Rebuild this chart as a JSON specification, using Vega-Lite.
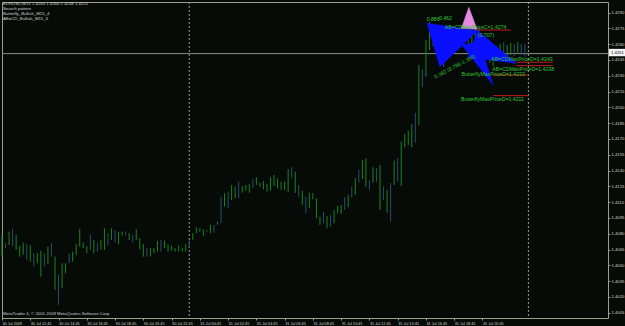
{
  "$schema": "https://vega.github.io/schema/vega-lite/v6.json",
  "width": 606,
  "height": 316,
  "autosize": {"type": "none"},
  "padding": {"left": 2, "top": 2, "right": 17, "bottom": 8},
  "background": "#060b08",
  "config": {
    "view": {"stroke": "#a09c8c", "strokeWidth": 1, "fill": "#060b08"},
    "font": "Liberation Sans",
    "text": {"font": "Liberation Sans"},
    "axisX": {"labelOverlap": false, "labelFlush": false, "labelBound": false, "tickCount": 200},
    "axisY": {"labelOverlap": false, "labelFlush": false, "labelBound": false, "tickCount": 200}
  },
  "layer": [
    {
      "data": {"values": [{"t": "2009-07-31T00:00Z"}, {"t": "2009-08-01T00:00Z"}]},
      "mark": {"type": "rule", "color": "#9a9a9a", "strokeWidth": 1, "strokeDash": [2, 2]},
      "encoding": {
        "x": {"field": "t", "type": "temporal",
          "scale": {"type": "utc", "domain": [{"year": 2009, "month": 7, "date": 30, "hours": 10, "minutes": 45, "utc": true}, {"year": 2009, "month": 8, "date": 1, "hours": 5, "minutes": 38, "utc": true}]},
          "axis": {
            "orient": "bottom", "title": null, "grid": false, "domain": false, "tickCount": 200,
            "values": [
              {"year": 2009, "month": 7, "date": 30, "hours": 10, "minutes": 45, "utc": true},
              {"year": 2009, "month": 7, "date": 30, "hours": 12, "minutes": 45, "utc": true},
              {"year": 2009, "month": 7, "date": 30, "hours": 14, "minutes": 45, "utc": true},
              {"year": 2009, "month": 7, "date": 30, "hours": 16, "minutes": 45, "utc": true},
              {"year": 2009, "month": 7, "date": 30, "hours": 18, "minutes": 45, "utc": true},
              {"year": 2009, "month": 7, "date": 30, "hours": 20, "minutes": 45, "utc": true},
              {"year": 2009, "month": 7, "date": 30, "hours": 22, "minutes": 45, "utc": true},
              {"year": 2009, "month": 7, "date": 31, "hours": 0, "minutes": 45, "utc": true},
              {"year": 2009, "month": 7, "date": 31, "hours": 2, "minutes": 45, "utc": true},
              {"year": 2009, "month": 7, "date": 31, "hours": 4, "minutes": 45, "utc": true},
              {"year": 2009, "month": 7, "date": 31, "hours": 6, "minutes": 45, "utc": true},
              {"year": 2009, "month": 7, "date": 31, "hours": 8, "minutes": 45, "utc": true},
              {"year": 2009, "month": 7, "date": 31, "hours": 10, "minutes": 45, "utc": true},
              {"year": 2009, "month": 7, "date": 31, "hours": 12, "minutes": 45, "utc": true},
              {"year": 2009, "month": 7, "date": 31, "hours": 14, "minutes": 45, "utc": true},
              {"year": 2009, "month": 7, "date": 31, "hours": 16, "minutes": 45, "utc": true},
              {"year": 2009, "month": 7, "date": 31, "hours": 18, "minutes": 45, "utc": true},
              {"year": 2009, "month": 7, "date": 31, "hours": 20, "minutes": 45, "utc": true}
            ],
            "labelExpr": "datum.index == 0 ? '30 Jul 2009' : utcFormat(datum.value, '%d %b %H:%M')",
            "labelAlign": "left", "labelBaseline": "top", "labelFontSize": 3.8, "labelColor": "#d0d0d0",
            "labelFont": "Liberation Sans", "labelPadding": 1, "labelOverlap": false, "labelFlush": false,
            "tickColor": "#a09c8c", "tickSize": 2, "tickWidth": 1
          }
        }
      }
    },
    {
      "data": {"values": [{"p": 1.4251}]},
      "mark": {"type": "rule", "color": "#8c8c8c", "strokeWidth": 1},
      "encoding": {
        "y": {"field": "p", "type": "quantitative",
          "scale": {"domain": [1.4, 1.43], "zero": false, "nice": false},
          "axis": {
            "orient": "right", "title": null, "grid": false, "domain": false, "tickCount": 200,
            "values": [1.4005, 1.402, 1.4035, 1.405, 1.4065, 1.408, 1.4095, 1.411, 1.4125, 1.414, 1.4155, 1.417, 1.4185, 1.42, 1.4215, 1.423, 1.4245, 1.426, 1.4275, 1.429],
            "format": ".4f", "labelFontSize": 4.2, "labelColor": "#d0d0d0", "labelFont": "Liberation Sans",
            "labelPadding": 1, "labelAlign": "left", "labelOverlap": false, "tickColor": "#a09c8c", "tickSize": 2
          }
        }
      }
    },
    {
      "data": {"values": [
        {"t":"2009-07-30T10:45Z","h":1.40789,"l":1.40583,"d":"up"},
        {"t":"2009-07-30T11:00Z","h":1.40710,"l":1.40663,"d":"down"},
        {"t":"2009-07-30T11:15Z","h":1.40820,"l":1.40694,"d":"up"},
        {"t":"2009-07-30T11:30Z","h":1.40846,"l":1.40684,"d":"down"},
        {"t":"2009-07-30T11:45Z","h":1.40789,"l":1.40646,"d":"up"},
        {"t":"2009-07-30T12:00Z","h":1.40684,"l":1.40583,"d":"up"},
        {"t":"2009-07-30T12:15Z","h":1.40716,"l":1.40599,"d":"up"},
        {"t":"2009-07-30T12:30Z","h":1.40703,"l":1.40552,"d":"down"},
        {"t":"2009-07-30T12:45Z","h":1.40691,"l":1.40535,"d":"up"},
        {"t":"2009-07-30T13:00Z","h":1.40615,"l":1.40488,"d":"down"},
        {"t":"2009-07-30T13:15Z","h":1.40615,"l":1.40520,"d":"up"},
        {"t":"2009-07-30T13:30Z","h":1.40637,"l":1.40393,"d":"up"},
        {"t":"2009-07-30T13:45Z","h":1.40615,"l":1.40488,"d":"down"},
        {"t":"2009-07-30T14:00Z","h":1.40678,"l":1.40511,"d":"up"},
        {"t":"2009-07-30T14:15Z","h":1.40710,"l":1.40583,"d":"down"},
        {"t":"2009-07-30T14:30Z","h":1.40583,"l":1.40267,"d":"up"},
        {"t":"2009-07-30T14:45Z","h":1.40409,"l":1.40125,"d":"down"},
        {"t":"2009-07-30T15:00Z","h":1.40520,"l":1.40283,"d":"up"},
        {"t":"2009-07-30T15:15Z","h":1.40520,"l":1.40425,"d":"up"},
        {"t":"2009-07-30T15:30Z","h":1.40615,"l":1.40520,"d":"down"},
        {"t":"2009-07-30T15:45Z","h":1.40630,"l":1.40535,"d":"up"},
        {"t":"2009-07-30T16:00Z","h":1.40703,"l":1.40599,"d":"up"},
        {"t":"2009-07-30T16:15Z","h":1.40846,"l":1.40678,"d":"up"},
        {"t":"2009-07-30T16:30Z","h":1.40716,"l":1.40663,"d":"up"},
        {"t":"2009-07-30T16:45Z","h":1.40684,"l":1.40615,"d":"up"},
        {"t":"2009-07-30T17:00Z","h":1.40789,"l":1.40646,"d":"down"},
        {"t":"2009-07-30T17:15Z","h":1.40741,"l":1.40615,"d":"up"},
        {"t":"2009-07-30T17:30Z","h":1.40716,"l":1.40630,"d":"down"},
        {"t":"2009-07-30T17:45Z","h":1.40741,"l":1.40653,"d":"up"},
        {"t":"2009-07-30T18:00Z","h":1.40852,"l":1.40646,"d":"up"},
        {"t":"2009-07-30T18:15Z","h":1.40805,"l":1.40694,"d":"down"},
        {"t":"2009-07-30T18:30Z","h":1.40852,"l":1.40741,"d":"up"},
        {"t":"2009-07-30T18:45Z","h":1.40836,"l":1.40719,"d":"down"},
        {"t":"2009-07-30T19:00Z","h":1.40820,"l":1.40700,"d":"up"},
        {"t":"2009-07-30T19:15Z","h":1.40820,"l":1.40782,"d":"up"},
        {"t":"2009-07-30T19:30Z","h":1.40820,"l":1.40782,"d":"down"},
        {"t":"2009-07-30T19:45Z","h":1.40805,"l":1.40741,"d":"up"},
        {"t":"2009-07-30T20:00Z","h":1.40789,"l":1.40716,"d":"down"},
        {"t":"2009-07-30T20:15Z","h":1.40843,"l":1.40741,"d":"up"},
        {"t":"2009-07-30T20:30Z","h":1.40758,"l":1.40653,"d":"up"},
        {"t":"2009-07-30T20:45Z","h":1.40703,"l":1.40583,"d":"up"},
        {"t":"2009-07-30T21:00Z","h":1.40663,"l":1.40583,"d":"down"},
        {"t":"2009-07-30T21:15Z","h":1.40663,"l":1.40583,"d":"up"},
        {"t":"2009-07-30T21:30Z","h":1.40663,"l":1.40615,"d":"up"},
        {"t":"2009-07-30T21:45Z","h":1.40732,"l":1.40630,"d":"up"},
        {"t":"2009-07-30T22:00Z","h":1.40741,"l":1.40630,"d":"down"},
        {"t":"2009-07-30T22:15Z","h":1.40735,"l":1.40663,"d":"up"},
        {"t":"2009-07-30T22:30Z","h":1.40700,"l":1.40630,"d":"up"},
        {"t":"2009-07-30T22:45Z","h":1.40687,"l":1.40640,"d":"up"},
        {"t":"2009-07-30T23:00Z","h":1.40663,"l":1.40630,"d":"up"},
        {"t":"2009-07-30T23:15Z","h":1.40687,"l":1.40630,"d":"up"},
        {"t":"2009-07-30T23:30Z","h":1.40663,"l":1.40630,"d":"up"},
        {"t":"2009-07-30T23:45Z","h":1.40700,"l":1.40630,"d":"up"},
        {"t":"2009-07-31T00:00Z","h":1.40741,"l":1.40663,"d":"down"},
        {"t":"2009-07-31T00:15Z","h":1.40805,"l":1.40741,"d":"up"},
        {"t":"2009-07-31T00:30Z","h":1.40862,"l":1.40805,"d":"up"},
        {"t":"2009-07-31T00:45Z","h":1.40852,"l":1.40820,"d":"up"},
        {"t":"2009-07-31T01:00Z","h":1.40843,"l":1.40780,"d":"up"},
        {"t":"2009-07-31T01:15Z","h":1.40836,"l":1.40820,"d":"up"},
        {"t":"2009-07-31T01:30Z","h":1.40884,"l":1.40805,"d":"up"},
        {"t":"2009-07-31T01:45Z","h":1.40884,"l":1.40811,"d":"down"},
        {"t":"2009-07-31T02:00Z","h":1.40915,"l":1.40887,"d":"up"},
        {"t":"2009-07-31T02:15Z","h":1.41152,"l":1.40900,"d":"down"},
        {"t":"2009-07-31T02:30Z","h":1.41185,"l":1.41057,"d":"up"},
        {"t":"2009-07-31T02:45Z","h":1.41200,"l":1.41042,"d":"down"},
        {"t":"2009-07-31T03:00Z","h":1.41263,"l":1.41121,"d":"up"},
        {"t":"2009-07-31T03:15Z","h":1.41247,"l":1.41137,"d":"up"},
        {"t":"2009-07-31T03:30Z","h":1.41295,"l":1.41137,"d":"down"},
        {"t":"2009-07-31T03:45Z","h":1.41253,"l":1.41190,"d":"up"},
        {"t":"2009-07-31T04:00Z","h":1.41263,"l":1.41209,"d":"up"},
        {"t":"2009-07-31T04:15Z","h":1.41273,"l":1.41190,"d":"up"},
        {"t":"2009-07-31T04:30Z","h":1.41317,"l":1.41232,"d":"down"},
        {"t":"2009-07-31T04:45Z","h":1.41336,"l":1.41263,"d":"up"},
        {"t":"2009-07-31T05:00Z","h":1.41285,"l":1.41247,"d":"up"},
        {"t":"2009-07-31T05:15Z","h":1.41301,"l":1.41222,"d":"up"},
        {"t":"2009-07-31T05:30Z","h":1.41273,"l":1.41200,"d":"up"},
        {"t":"2009-07-31T05:45Z","h":1.41336,"l":1.41209,"d":"up"},
        {"t":"2009-07-31T06:00Z","h":1.41358,"l":1.41254,"d":"up"},
        {"t":"2009-07-31T06:15Z","h":1.41327,"l":1.41232,"d":"up"},
        {"t":"2009-07-31T06:30Z","h":1.41295,"l":1.41216,"d":"up"},
        {"t":"2009-07-31T06:45Z","h":1.41295,"l":1.41216,"d":"up"},
        {"t":"2009-07-31T07:00Z","h":1.41413,"l":1.41200,"d":"up"},
        {"t":"2009-07-31T07:15Z","h":1.41431,"l":1.41327,"d":"down"},
        {"t":"2009-07-31T07:30Z","h":1.41389,"l":1.41187,"d":"up"},
        {"t":"2009-07-31T07:45Z","h":1.41263,"l":1.41152,"d":"down"},
        {"t":"2009-07-31T08:00Z","h":1.41209,"l":1.41074,"d":"up"},
        {"t":"2009-07-31T08:15Z","h":1.41152,"l":1.40995,"d":"down"},
        {"t":"2009-07-31T08:30Z","h":1.41190,"l":1.41042,"d":"up"},
        {"t":"2009-07-31T08:45Z","h":1.41185,"l":1.41128,"d":"up"},
        {"t":"2009-07-31T09:00Z","h":1.41137,"l":1.40947,"d":"up"},
        {"t":"2009-07-31T09:15Z","h":1.40963,"l":1.40884,"d":"up"},
        {"t":"2009-07-31T09:30Z","h":1.41010,"l":1.40900,"d":"down"},
        {"t":"2009-07-31T09:45Z","h":1.40969,"l":1.40852,"d":"up"},
        {"t":"2009-07-31T10:00Z","h":1.40979,"l":1.40868,"d":"down"},
        {"t":"2009-07-31T10:15Z","h":1.41026,"l":1.40900,"d":"up"},
        {"t":"2009-07-31T10:30Z","h":1.41064,"l":1.40995,"d":"up"},
        {"t":"2009-07-31T10:45Z","h":1.41074,"l":1.40988,"d":"up"},
        {"t":"2009-07-31T11:00Z","h":1.41147,"l":1.41026,"d":"down"},
        {"t":"2009-07-31T11:15Z","h":1.41168,"l":1.41052,"d":"up"},
        {"t":"2009-07-31T11:30Z","h":1.41247,"l":1.41147,"d":"down"},
        {"t":"2009-07-31T11:45Z","h":1.41327,"l":1.41168,"d":"up"},
        {"t":"2009-07-31T12:00Z","h":1.41406,"l":1.41285,"d":"down"},
        {"t":"2009-07-31T12:15Z","h":1.41501,"l":1.41320,"d":"up"},
        {"t":"2009-07-31T12:30Z","h":1.41517,"l":1.41247,"d":"up"},
        {"t":"2009-07-31T12:45Z","h":1.41311,"l":1.41216,"d":"down"},
        {"t":"2009-07-31T13:00Z","h":1.41431,"l":1.41285,"d":"up"},
        {"t":"2009-07-31T13:15Z","h":1.41422,"l":1.41295,"d":"down"},
        {"t":"2009-07-31T13:30Z","h":1.41453,"l":1.41026,"d":"up"},
        {"t":"2009-07-31T13:45Z","h":1.41247,"l":1.41121,"d":"down"},
        {"t":"2009-07-31T14:00Z","h":1.41216,"l":1.41000,"d":"up"},
        {"t":"2009-07-31T14:15Z","h":1.41279,"l":1.40915,"d":"down"},
        {"t":"2009-07-31T14:30Z","h":1.41494,"l":1.41263,"d":"up"},
        {"t":"2009-07-31T14:45Z","h":1.41517,"l":1.41295,"d":"down"},
        {"t":"2009-07-31T15:00Z","h":1.41674,"l":1.41254,"d":"up"},
        {"t":"2009-07-31T15:15Z","h":1.41747,"l":1.41621,"d":"up"},
        {"t":"2009-07-31T15:30Z","h":1.41779,"l":1.41643,"d":"up"},
        {"t":"2009-07-31T15:45Z","h":1.41842,"l":1.41621,"d":"up"},
        {"t":"2009-07-31T16:00Z","h":1.41949,"l":1.41665,"d":"down"},
        {"t":"2009-07-31T16:15Z","h":1.42402,"l":1.41833,"d":"up"},
        {"t":"2009-07-31T16:30Z","h":1.42361,"l":1.42190,"d":"down"},
        {"t":"2009-07-31T16:45Z","h":1.42639,"l":1.42291,"d":"up"},
        {"t":"2009-07-31T17:00Z","h":1.42810,"l":1.42544,"d":"up"},
        {"t":"2009-07-31T17:15Z","h":1.42772,"l":1.42582,"d":"down"},
        {"t":"2009-07-31T17:30Z","h":1.42734,"l":1.42526,"d":"down"},
        {"t":"2009-07-31T17:45Z","h":1.42639,"l":1.42431,"d":"down"},
        {"t":"2009-07-31T18:00Z","h":1.42563,"l":1.42383,"d":"down"},
        {"t":"2009-07-31T18:15Z","h":1.42620,"l":1.42450,"d":"up"},
        {"t":"2009-07-31T18:30Z","h":1.42696,"l":1.42526,"d":"up"},
        {"t":"2009-07-31T18:45Z","h":1.42734,"l":1.42582,"d":"up"},
        {"t":"2009-07-31T19:00Z","h":1.42753,"l":1.42601,"d":"up"},
        {"t":"2009-07-31T19:15Z","h":1.42782,"l":1.42620,"d":"up"},
        {"t":"2009-07-31T19:30Z","h":1.42791,"l":1.42639,"d":"down"},
        {"t":"2009-07-31T19:45Z","h":1.42753,"l":1.42601,"d":"down"},
        {"t":"2009-07-31T20:00Z","h":1.42734,"l":1.42601,"d":"up"},
        {"t":"2009-07-31T20:15Z","h":1.42753,"l":1.42639,"d":"up"},
        {"t":"2009-07-31T20:30Z","h":1.42763,"l":1.42601,"d":"down"},
        {"t":"2009-07-31T20:45Z","h":1.42677,"l":1.42507,"d":"down"},
        {"t":"2009-07-31T21:00Z","h":1.42601,"l":1.42450,"d":"down"},
        {"t":"2009-07-31T21:15Z","h":1.42563,"l":1.42421,"d":"down"},
        {"t":"2009-07-31T21:30Z","h":1.42544,"l":1.42393,"d":"up"},
        {"t":"2009-07-31T21:45Z","h":1.42582,"l":1.42450,"d":"up"},
        {"t":"2009-07-31T22:00Z","h":1.42601,"l":1.42469,"d":"up"},
        {"t":"2009-07-31T22:15Z","h":1.42620,"l":1.42488,"d":"down"},
        {"t":"2009-07-31T22:30Z","h":1.42592,"l":1.42469,"d":"up"},
        {"t":"2009-07-31T22:45Z","h":1.42611,"l":1.42497,"d":"up"},
        {"t":"2009-07-31T23:00Z","h":1.42601,"l":1.42488,"d":"down"},
        {"t":"2009-07-31T23:15Z","h":1.42620,"l":1.42507,"d":"up"},
        {"t":"2009-07-31T23:30Z","h":1.42601,"l":1.42497,"d":"down"},
        {"t":"2009-07-31T23:45Z","h":1.42600,"l":1.42480,"d":"down"}
      ]},
      "mark": {"type": "rule", "strokeWidth": 1},
      "encoding": {
        "x": {"field": "t", "type": "temporal", "scale": {"type": "utc", "domain": [{"year": 2009, "month": 7, "date": 30, "hours": 10, "minutes": 45, "utc": true}, {"year": 2009, "month": 8, "date": 1, "hours": 5, "minutes": 38, "utc": true}]}},
        "y": {"field": "h", "type": "quantitative", "scale": {"domain": [1.4, 1.43], "zero": false, "nice": false}},
        "y2": {"field": "l"},
        "color": {"field": "d", "type": "nominal", "scale": {"domain": ["up", "down"], "range": ["#1a841e", "#2b4c6e"]}, "legend": null}
      }
    },
    {
      "data": {"values": [
        {"g": "xab", "k": 1, "t": "2009-07-31T16:50Z", "p": 1.42798},
        {"g": "xab", "k": 2, "t": "2009-07-31T20:25Z", "p": 1.42728},
        {"g": "xab", "k": 3, "t": "2009-07-31T17:44Z", "p": 1.42386},
        {"g": "bcd", "k": 1, "t": "2009-07-31T20:25Z", "p": 1.42728},
        {"g": "bcd", "k": 2, "t": "2009-07-31T23:09Z", "p": 1.42418},
        {"g": "bcd", "k": 3, "t": "2009-07-31T19:43Z", "p": 1.42478},
        {"g": "spk", "k": 1, "t": "2009-07-31T19:17Z", "p": 1.42592},
        {"g": "spk", "k": 2, "t": "2009-07-31T21:30Z", "p": 1.42212},
        {"g": "spk", "k": 3, "t": "2009-07-31T20:33Z", "p": 1.42620}
      ]},
      "mark": {"type": "line", "fill": "#0a10ff", "stroke": "#0a10ff", "strokeWidth": 0.5, "interpolate": "linear-closed"},
      "encoding": {
        "x": {"field": "t", "type": "temporal"},
        "y": {"field": "p", "type": "quantitative"},
        "detail": {"field": "g"},
        "order": {"field": "k", "type": "quantitative"}
      }
    },
    {
      "data": {"values": [
        {"g": "top", "k": 1, "t": "2009-07-31T19:16Z", "p": 1.42750},
        {"g": "top", "k": 2, "t": "2009-07-31T19:47Z", "p": 1.42950},
        {"g": "top", "k": 3, "t": "2009-07-31T20:22Z", "p": 1.42741}
      ]},
      "mark": {"type": "line", "fill": "#e58ae0", "stroke": "#e58ae0", "strokeWidth": 0.5, "interpolate": "linear-closed"},
      "encoding": {
        "x": {"field": "t", "type": "temporal"},
        "y": {"field": "p", "type": "quantitative"},
        "detail": {"field": "g"},
        "order": {"field": "k", "type": "quantitative"}
      }
    },
    {
      "data": {"values": [
        {"t1": "2009-07-31T20:22Z", "t2": "2009-07-31T22:45Z", "p": 1.42734},
        {"t1": "2009-07-31T23:10Z", "t2": "2009-08-01T01:43Z", "p": 1.42428},
        {"t1": "2009-07-31T23:10Z", "t2": "2009-08-01T01:43Z", "p": 1.42396},
        {"t1": "2009-07-31T21:30Z", "t2": "2009-08-01T00:01Z", "p": 1.42307},
        {"t1": "2009-07-31T21:30Z", "t2": "2009-08-01T00:01Z", "p": 1.42111}
      ]},
      "mark": {"type": "rule", "color": "#c41a1a", "strokeWidth": 1},
      "encoding": {
        "x": {"field": "t1", "type": "temporal"},
        "x2": {"field": "t2"},
        "y": {"field": "p", "type": "quantitative"}
      }
    },
    {
      "data": {"values": [
        {"t": "2009-07-31T21:21Z", "p": 1.42459, "s": "AB=CDMaxPriceD=1.4243"},
        {"t": "2009-07-31T21:27Z", "p": 1.42361, "s": "AB=CDMaxPriceD=1.4238"},
        {"t": "2009-07-31T19:16Z", "p": 1.42315, "s": "ButterflyMaxPriceD=1.4233"},
        {"t": "2009-07-31T19:14Z", "p": 1.42082, "s": "ButterflyMaxPriceD=1.4211"},
        {"t": "2009-07-31T18:05Z", "p": 1.42763, "s": "AB=CDMaxPriceC=1.4274"},
        {"t": "2009-07-31T16:48Z", "p": 1.42835, "s": "0.886"},
        {"t": "2009-07-31T17:40Z", "p": 1.42850, "s": "0.462"},
        {"t": "2009-07-31T20:25Z", "p": 1.42690, "s": "(0.707)"}
      ]},
      "mark": {"type": "text", "align": "left", "baseline": "middle", "fontSize": 5.2, "color": "#33c433"},
      "encoding": {
        "x": {"field": "t", "type": "temporal"},
        "y": {"field": "p", "type": "quantitative"},
        "text": {"field": "s"}
      }
    },
    {
      "data": {"values": [
        {"t": "2009-07-31T17:22Z", "p": 1.42288, "s": "0.382 (0.786-1.388)"}
      ]},
      "mark": {"type": "text", "align": "left", "baseline": "middle", "fontSize": 5.2, "color": "#33c433", "angle": 332},
      "encoding": {
        "x": {"field": "t", "type": "temporal"},
        "y": {"field": "p", "type": "quantitative"},
        "text": {"field": "s"}
      }
    },
    {
      "data": {"values": [
        {"t": "2009-07-30T10:45Z", "p": 1.42981, "s": "EURUSD,M15  1.4260 1.4260 1.4248 1.4251"},
        {"t": "2009-07-30T10:45Z", "p": 1.42934, "s": "Search pattern"},
        {"t": "2009-07-30T10:45Z", "p": 1.42886, "s": "Butterfly_Bullish_M15_4"},
        {"t": "2009-07-30T10:45Z", "p": 1.42839, "s": "AB=CD_Bullish_M15_6"},
        {"t": "2009-07-30T10:45Z", "p": 1.40039, "s": "MetaTrader 4, © 2001-2009 MetaQuotes Software Corp."}
      ]},
      "mark": {"type": "text", "align": "left", "baseline": "middle", "fontSize": 4.3, "color": "#d0d0d0", "dx": 1},
      "encoding": {
        "x": {"field": "t", "type": "temporal"},
        "y": {"field": "p", "type": "quantitative"},
        "text": {"field": "s"}
      }
    },
    {
      "data": {"values": [{"t1": "2009-08-01T05:42Z", "t2": "2009-08-01T06:55Z", "p1": 1.42555, "p2": 1.42485}]},
      "mark": {"type": "rect", "color": "#f4f4f4"},
      "encoding": {
        "x": {"field": "t1", "type": "temporal"},
        "x2": {"field": "t2"},
        "y": {"field": "p1", "type": "quantitative"},
        "y2": {"field": "p2"}
      }
    },
    {
      "data": {"values": [{"t": "2009-08-01T05:42Z", "p": 1.4252, "s": "1.4251"}]},
      "mark": {"type": "text", "align": "left", "baseline": "middle", "fontSize": 4.2, "color": "#000000", "dx": 2},
      "encoding": {
        "x": {"field": "t", "type": "temporal"},
        "y": {"field": "p", "type": "quantitative"},
        "text": {"field": "s"}
      }
    }
  ]
}
